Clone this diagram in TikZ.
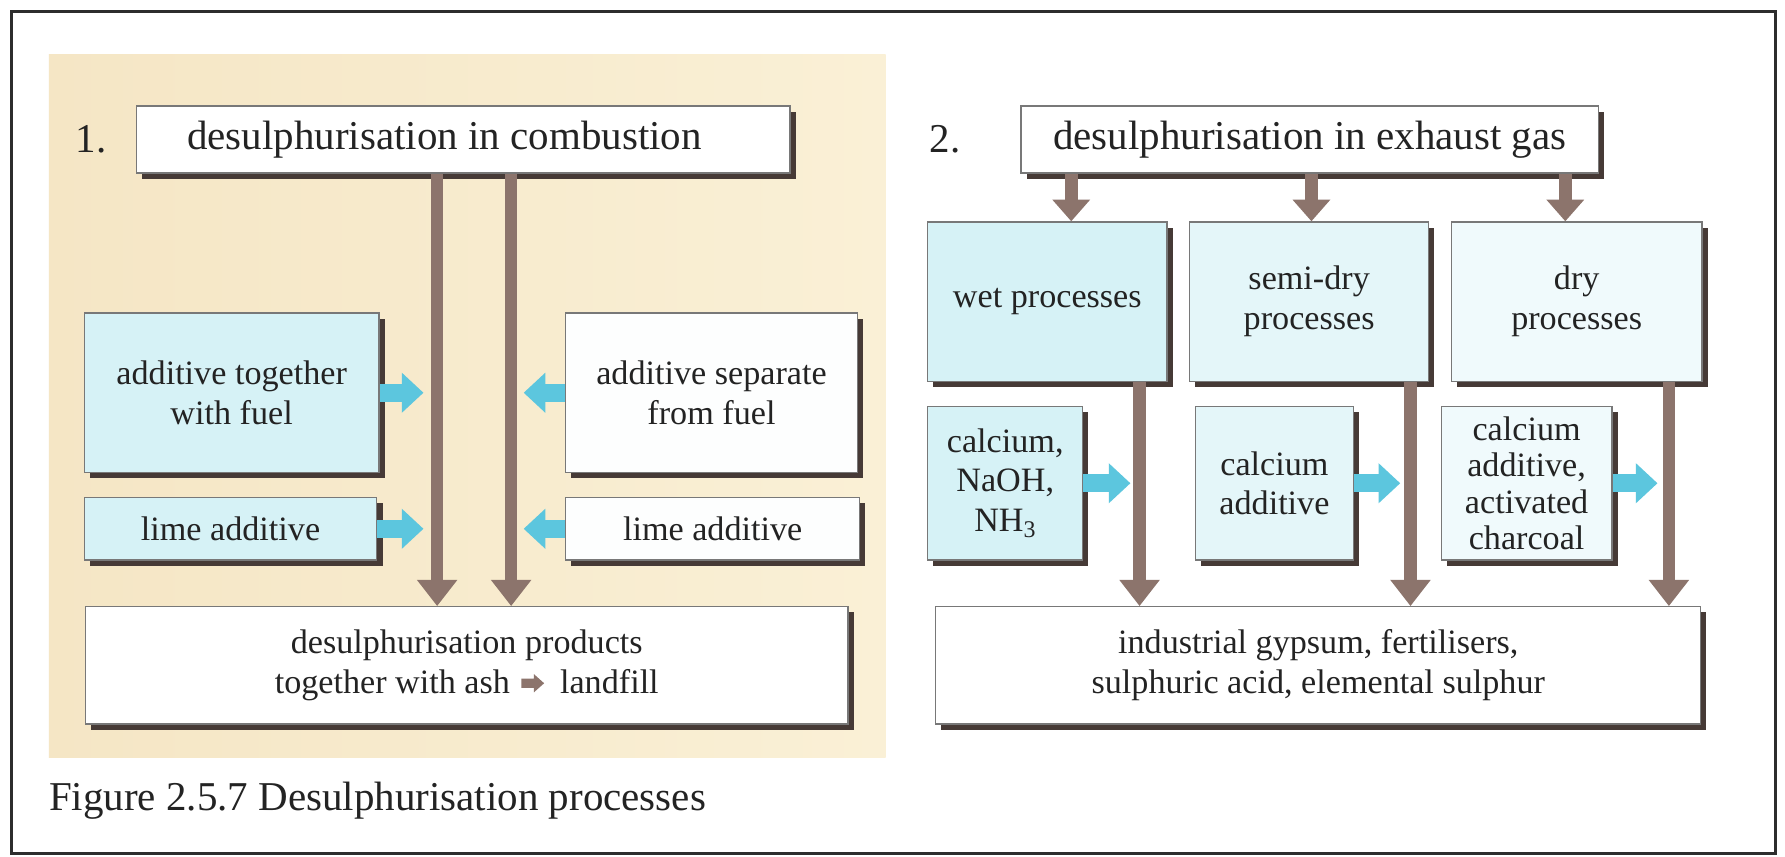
\documentclass[tikz,border=0pt]{standalone}
\usepackage{fontspec}
\setmainfont{Liberation Serif}
\usetikzlibrary{arrows.meta,shadows}
\definecolor{beigeL}{RGB}{245,230,197}
\definecolor{beigeR}{RGB}{250,240,214}
\definecolor{cyanA}{RGB}{214,242,246}
\definecolor{cyanB}{RGB}{228,246,249}
\definecolor{cyanC}{RGB}{240,250,252}
\definecolor{whiteB}{RGB}{253,254,254}
\definecolor{brownA}{RGB}{140,116,108}
\definecolor{cyanArr}{RGB}{92,198,222}
\definecolor{shadowC}{RGB}{70,58,54}
\definecolor{txt}{RGB}{35,35,35}
\definecolor{edge}{RGB}{120,120,120}
\definecolor{frameC}{RGB}{45,45,45}
\tikzset{
 box/.style={draw=edge, line width=1.2pt, inner sep=2pt, align=center, text=txt,
   font=\fontsize{30}{35}\selectfont,
   drop shadow={shadow xshift=5pt, shadow yshift=-5pt, fill=shadowC, opacity=1}},
 bigbox/.style={box, font=\fontsize{36}{40}\selectfont},
 brownarr/.style={draw=brownA, line width=11pt, -{Triangle[width=34pt,length=23pt]}},
 shortarr/.style={draw=brownA, line width=11pt, -{Triangle[width=32pt,length=19pt]}},
 cyanarr/.style={draw=cyanArr, line width=16pt, -{Triangle[width=34pt,length=19pt]}},
 lbl/.style={text=txt, font=\fontsize{36}{40}\selectfont, inner sep=0pt},
}
\begin{document}
\begin{tikzpicture}[x=1pt,y=-1pt]
\fill[white] (0,0) rectangle (1568,752);
\useasboundingbox (0,0) rectangle (1568,752);
\draw[frameC, line width=2.5pt] (10,10) rectangle (1560,750);
\shade[left color=beigeL, right color=beigeR] (43,48) rectangle (778,665);

% left part
\node[lbl] (n1) at (80,122) {1.};
\node[bigbox, fill=white, minimum width=574pt, minimum height=59pt] (topL) at (407,122.5)
  {desulphurisation in combustion\hspace*{33pt}};
\node[box, fill=cyanA, minimum width=259pt, minimum height=140pt] (addTog) at (203.5,345)
  {additive together\\with fuel};
\node[box, fill=whiteB, minimum width=256pt, minimum height=140pt] (addSep) at (625,345)
  {additive separate\\from fuel};
\node[box, fill=cyanA, minimum width=257pt, minimum height=55pt] (limeL) at (202.5,464.5)
  {lime additive};
\node[box, fill=whiteB, minimum width=258pt, minimum height=55pt] (limeR) at (626,464.5)
  {lime additive};
\node[box, fill=white, minimum width=670pt, minimum height=103pt] (prodL) at (410,584.5)
  {desulphurisation products\\together with ash\hspace{10pt}%
   \tikz[x=1pt,y=1pt,baseline=-1pt]\fill[brownA] (0,4)--(11,4)--(11,0)--(20,8)--(11,16)--(11,12)--(0,12)--cycle;%
   \hspace{14pt}landfill};
\coordinate (xa) at (384,0);
\coordinate (xb) at (449,0);
\coordinate (ta) at (372,0);
\coordinate (tb) at (460,0);
\draw[brownarr] (topL.south -| xa) -- (prodL.north -| xa);
\draw[brownarr] (topL.south -| xb) -- (prodL.north -| xb);
\draw[cyanarr] (addTog.east) -- (addTog.east -| ta);
\draw[cyanarr] (limeL.east) -- (limeL.east -| ta);
\draw[cyanarr] (addSep.west) -- (addSep.west -| tb);
\draw[cyanarr] (limeR.west) -- (limeR.west -| tb);

% right part
\node[lbl] (n2) at (830,122) {2.};
\node[bigbox, fill=white, minimum width=507pt, minimum height=59pt] (topR) at (1150.5,122.5)
  {desulphurisation in exhaust gas};
\node[box, fill=cyanA, minimum width=210pt, minimum height=140pt] (wet) at (920,265)
  {wet processes};
\node[box, fill=cyanB, minimum width=210pt, minimum height=140pt] (semi) at (1150,265)
  {semi-dry\\processes};
\node[box, fill=cyanC, minimum width=220pt, minimum height=140pt] (dry) at (1385,265)
  {dry\\processes};
\node[box, fill=cyanA, minimum width=136pt, minimum height=135pt] (calNa) at (883,424.5)
  {calcium,\\NaOH,\\NH\textsubscript{3}};
\node[box, fill=cyanB, minimum width=139pt, minimum height=135pt] (calAdd) at (1119.5,424.5)
  {calcium\\additive};
\node[box, fill=cyanC, minimum width=150pt, minimum height=135pt, font=\fontsize{30}{32}\selectfont] (calAct) at (1341,424.5)
  {calcium\\additive,\\activated\\charcoal};
\node[box, fill=white, minimum width=672pt, minimum height=103pt] (prodR) at (1158,584.5)
  {industrial gypsum, fertilisers,\\sulphuric acid, elemental sulphur};
\coordinate (s1) at (941,0);
\coordinate (s2) at (1152,0);
\coordinate (s3) at (1375,0);
\draw[shortarr] (topR.south -| s1) -- (wet.north -| s1);
\draw[shortarr] (topR.south -| s2) -- (semi.north -| s2);
\draw[shortarr] (topR.south -| s3) -- (dry.north -| s3);
\coordinate (l1) at (1001,0);
\coordinate (l2) at (1239,0);
\coordinate (l3) at (1466,0);
\draw[brownarr] (wet.south -| l1) -- (prodR.north -| l1);
\draw[brownarr] (semi.south -| l2) -- (prodR.north -| l2);
\draw[brownarr] (dry.south -| l3) -- (prodR.north -| l3);
\coordinate (c1) at (993,0);
\coordinate (c2) at (1230,0);
\coordinate (c3) at (1456,0);
\draw[cyanarr] (calNa.east) -- (calNa.east -| c1);
\draw[cyanarr] (calAdd.east) -- (calAdd.east -| c2);
\draw[cyanarr] (calAct.east) -- (calAct.east -| c3);

\node[lbl, anchor=west] (cap) at (43,703) {Figure 2.5.7 Desulphurisation processes};
\end{tikzpicture}
\end{document}
